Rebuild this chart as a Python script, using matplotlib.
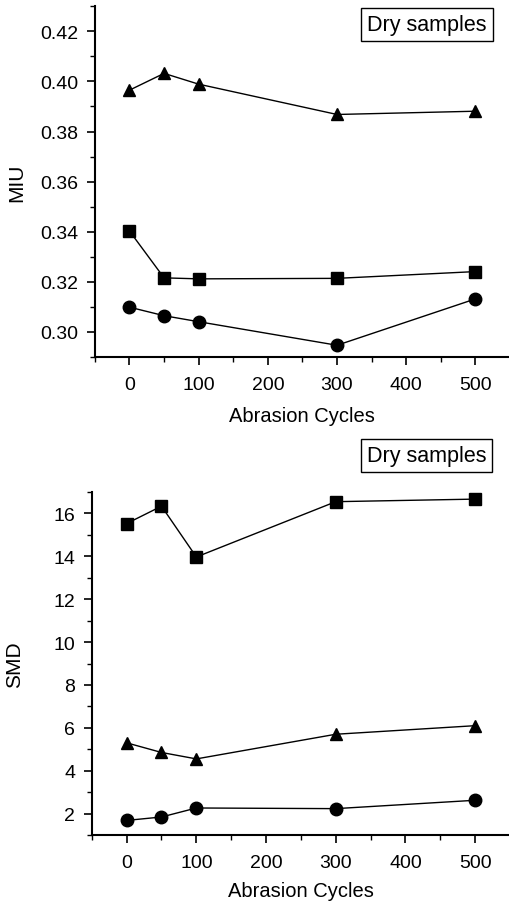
import matplotlib.pyplot as plt
from matplotlib.ticker import MultipleLocator

plt.rcParams['font.family'] = ['Liberation Sans', 'DejaVu Sans']

cycles = [0, 50, 100, 300, 500]

# MIU (dry samples)
miu_tri = [0.3965, 0.4032, 0.3989, 0.3868, 0.3881]
miu_sq = [0.3403, 0.3216, 0.3212, 0.3214, 0.3241]
miu_circ = [0.3099, 0.3065, 0.3041, 0.2947, 0.3132]

# SMD (dry samples)
smd_sq = [15.53, 16.34, 13.97, 16.55, 16.67]
smd_tri = [5.3, 4.85, 4.55, 5.7, 6.1]
smd_circ = [1.68, 1.84, 2.26, 2.23, 2.62]

fig = plt.figure(figsize=(5.1, 9.03), dpi=100)
ax1 = fig.add_axes([0.186, 0.6035, 0.814, 0.3885])
ax2 = fig.add_axes([0.180, 0.0742, 0.820, 0.3798])


def style(ax, xpad):
    for s in ['top', 'right']:
        ax.spines[s].set_visible(False)
    for s in ['left', 'bottom']:
        ax.spines[s].set_linewidth(1.5)
    ax.set_xlim(-50, 550)
    ax.xaxis.set_major_locator(MultipleLocator(100))
    ax.xaxis.set_minor_locator(MultipleLocator(50))
    ax.tick_params(which='major', length=6, width=1.2, labelsize=14, direction='out')
    ax.tick_params(which='minor', length=3.5, width=1.0, direction='out')
    ax.tick_params(axis='x', which='major', pad=8)
    ax.tick_params(axis='y', which='major', pad=6)
    ax.set_xlabel('Abrasion Cycles', fontsize=14.5, labelpad=xpad)


kw = dict(color='black', linewidth=1.0, markersize=9)

ax1.plot(cycles, miu_tri, marker='^', **kw)
ax1.plot(cycles, miu_sq, marker='s', **kw)
ax1.plot(cycles, miu_circ, marker='o', **kw)
style(ax1, 9)
ax1.set_ylim(0.29, 0.43)
ax1.yaxis.set_major_locator(MultipleLocator(0.02))
ax1.yaxis.set_minor_locator(MultipleLocator(0.01))
ax1.yaxis.set_major_formatter(plt.FormatStrFormatter('%.2f'))
ax1.set_ylabel('MIU', fontsize=15, labelpad=10)
ax1.text(0.80, 0.948, 'Dry samples', transform=ax1.transAxes, ha='center', va='center',
         fontsize=15.5, bbox=dict(boxstyle='square,pad=0.28', fc='white', ec='black', lw=1.0))

ax2.plot(cycles, smd_sq, marker='s', **kw)
ax2.plot(cycles, smd_tri, marker='^', **kw)
ax2.plot(cycles, smd_circ, marker='o', **kw)
style(ax2, 7)
ax2.set_ylim(1, 17)
ax2.yaxis.set_major_locator(MultipleLocator(2))
ax2.yaxis.set_minor_locator(MultipleLocator(1))
ax2.set_ylabel('SMD', fontsize=15, labelpad=21)
ax2.text(0.80, 1.106, 'Dry samples', transform=ax2.transAxes, ha='center', va='center',
         fontsize=15.5, bbox=dict(boxstyle='square,pad=0.28', fc='white', ec='black', lw=1.0))

fig.savefig('out.png', dpi=100)
